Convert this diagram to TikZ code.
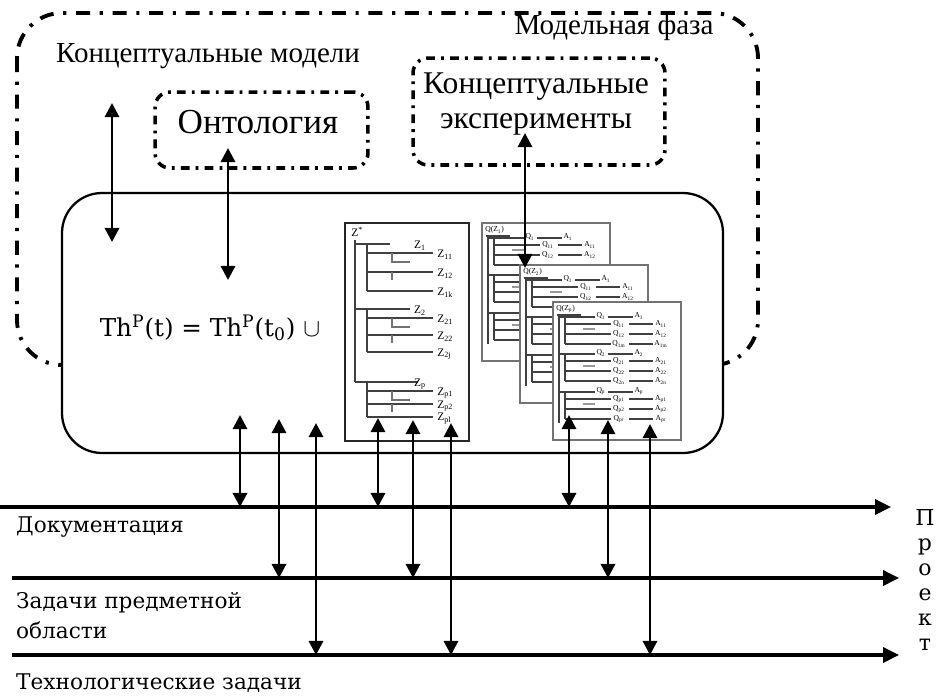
\documentclass[tikz,border=0pt]{standalone}
\usepackage{fontspec}
\setmainfont{Liberation Serif}
\newfontfamily\labelfont{DejaVu Serif}
\usetikzlibrary{arrows.meta}

\begin{document}
\begin{tikzpicture}[x=0.02cm, y=-0.02cm,
  phase/.style={line width=2.2pt, dash pattern=on 8pt off 5.5pt on 1.8pt off 5.5pt,
    rounded corners=0.9cm},
  subphase/.style={draw, line width=2pt, dash pattern=on 5pt off 3.5pt on 1.6pt off 3.5pt,
    rounded corners=0.3cm, inner sep=0pt},
  theory/.style={draw=black, line width=1.3pt, fill=white, rounded corners=0.8cm},
  card/.style={draw=black!55, line width=0.9pt, fill=white},
  twig/.style={black!75, line width=0.7pt},
  track/.style={line width=1.8pt, -{Triangle[length=9pt,width=8.5pt]}},
  link/.style={line width=1.7pt, {Triangle[length=8pt,width=8pt]}-{Triangle[length=8pt,width=8pt]}},
  zlbl/.style={inner sep=0pt, font=\fontsize{6.5}{6.5}\selectfont},
  qlbl/.style={inner sep=0pt, font=\fontsize{4.3}{4.3}\selectfont},
  lbl/.style={font=\labelfont\fontsize{12.3}{17}\selectfont}]

  \useasboundingbox (0,0) rectangle (937,698);

  % model phase (its lower edge runs behind the theory box)
  \draw[phase] (17,13) rectangle (758,365);
  \node[font=\fontsize{16.5}{18}\selectfont] (phaselbl) at (614,28) {Модельная фаза};
  \node[font=\fontsize{16.5}{18}\selectfont] (cmlbl) at (208,56) {Концептуальные модели};

  % ontology and conceptual experiments
  \node[subphase, minimum width=4.26cm, minimum height=1.52cm] (onto) at (261.5,130) {};
  \node[font=\fontsize{20}{22}\selectfont] (ontolbl) at (258,122) {Онтология};
  \node[subphase, minimum width=5.04cm, minimum height=2.14cm] (exper) at (539,111.5) {};
  \node[align=center, font=\fontsize{18}{20}\selectfont] (experlbl) at (536,104)
    {Концептуальные\\эксперименты};

  % theory box
  \draw[theory] (62,193) rectangle (723,453);
  \node[font=\labelfont\fontsize{14}{15}\selectfont] (law) at (210,328)
    {Th\textsuperscript{P}(t) = Th\textsuperscript{P}(t\textsubscript{0}) $\cup$};

  % goal tree Z*
  \draw[card, draw=black!85] (345,223) rectangle (469,441);
  \node[zlbl, anchor=west] (zroot) at (351,232) {Z\textsuperscript{*}};
  \draw[twig] (355,240) -- (355,382);
  \foreach \y/\d/\k/\n/\e in {244/19/1/k/390, 309/17/2/j/410, 382/13/p/l/418}{
    \draw[twig] (355,\y) -- (\e,\y);
    \node[zlbl] (z\k) at (420,\y+2) {Z\textsubscript{\k}};
    \draw[twig] (367,\y) -- (367,\y+9+2*\d);
    \foreach \j/\s in {0/1, 1/2, 2/\n}{
      \draw[twig, line width=1pt] (367,\y+9+\j*\d) -- (433,\y+9+\j*\d);
      \node[zlbl, anchor=west] (z\k\s) at (437,\y+11+\j*\d) {Z\textsubscript{\k\s}};
    }
    \draw[twig, black!55] (392,\y+9) -- (392,\y+18) -- (410,\y+18);
    \draw[twig, black!55] (392,\y+9+\d) -- (392,\y+17+\d);
  }

  % question trees Q(Z_i), stacked cards
  \foreach \cx/\cy/\i in {482/223/1, 520/265/2, 553/302/p}{
    \begin{scope}[shift={(\cx,\cy)}]
      \draw[card] (0,0) rectangle (128,138);
      \node[qlbl, anchor=west] (q\i) at (3,7) {Q(Z\textsubscript{\i})};
      \draw[twig] (4,13) -- (28,13);
      \draw[twig] (6,13) -- (6,121);
      \foreach \gy in {15, 52, 90}{
        \draw[twig] (6,\gy) -- (42,\gy);
        \draw[twig] (55,\gy) -- (80,\gy);
        \draw[twig] (12,\gy) -- (12,\gy+27);
        \foreach \j in {0,1,2}{
          \draw[twig] (12,\gy+7+10*\j) -- (58,\gy+7+10*\j);
          \draw[twig] (76,\gy+7+10*\j) -- (100,\gy+7+10*\j);
        }
        \draw[twig, black!40] (30,\gy+12) -- (42,\gy+12);
      }
      % first rows, seen on every card
      \node[qlbl] (q\i1) at (48,14) {Q\textsubscript{1}};
      \node[qlbl] (a\i1) at (86,14) {A\textsubscript{1}};
      \foreach \s/\r in {1/22, 2/32}{
        \node[qlbl] (q\i1\s) at (66,\r) {Q\textsubscript{1\s}};
        \node[qlbl] (a\i1\s) at (108,\r) {A\textsubscript{1\s}};
      }
    \end{scope}
  }
  % rest of the front card
  \begin{scope}[shift={(553,302)}]
    \node[qlbl] (qp1m) at (66,42) {Q\textsubscript{1m}};
    \node[qlbl] (ap1m) at (108,42) {A\textsubscript{1m}};
    \foreach \gy/\g/\n in {52/2/n, 90/p/r}{
      \node[qlbl] (qp\g) at (48,\gy-1) {Q\textsubscript{\g}};
      \node[qlbl] (ap\g) at (86,\gy-1) {A\textsubscript{\g}};
      \foreach \j/\s in {0/1, 1/2, 2/\n}{
        \node[qlbl] (qp\g\s) at (66,\gy+7+10*\j) {Q\textsubscript{\g\s}};
        \node[qlbl] (ap\g\s) at (108,\gy+7+10*\j) {A\textsubscript{\g\s}};
      }
    }
  \end{scope}

  % links between the model phase and the theory
  \foreach \n/\x/\t/\b in {cm/112/103/242, on/228/148/280, ex/525/133/268}{
    \coordinate (\n-top) at (\x,\t);
    \coordinate (\n-bot) at (\x,\b);
    \draw[link] (\n-top) -- (\n-bot);
  }

  % project tracks
  \foreach \n/\y/\xa/\xb in {doc/507/0/891, dom/578/12/899, tech/655/12/899}{
    \coordinate (\n-from) at (\xa,\y);
    \coordinate (\n-to) at (\xb,\y);
    \draw[track] (\n-from) -- (\n-to);
  }
  \foreach \x/\y/\n in {240/415/doc, 279/419/dom, 316/423/tech,
                        378/418/doc, 413/420/dom, 451/423/tech,
                        569/415/doc, 608/420/dom, 650/424/tech}{
    \coordinate (up-\x) at (\x,\y);
    \draw[link] (up-\x) -- (up-\x |- \n-from);
  }

  \node[lbl, anchor=west] (doclbl) at (10,527) {Документация};
  \node[lbl, anchor=west, align=left] (domlbl) at (10,616) {Задачи предметной\\области};
  \node[lbl, anchor=west] (techlbl) at (10,683) {Технологические задачи};
  \node[align=center, font=\labelfont\fontsize{12.5}{14.2}\selectfont] (project) at (925,580)
    {П\\р\\о\\е\\к\\т};
\end{tikzpicture}
\end{document}
